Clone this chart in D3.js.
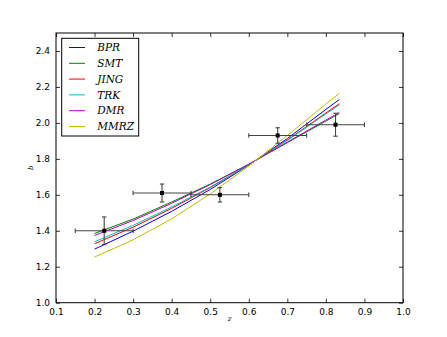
<!DOCTYPE html>
<html><head><meta charset="utf-8">
<script src="https://cdn.jsdelivr.net/npm/d3@7"></script>
<style>body{margin:0;background:#fff}svg{display:block}</style>
</head><body>
<script>
// Model curves b(z)
const zGrid = [0.2, 0.3, 0.4, 0.5, 0.6, 0.7, 0.8, 0.835];
const seriesNames = ["BPR", "SMT", "JING", "TRK", "DMR", "MMRZ"];
const seriesColors = ["#0000ff", "#008000", "#ff0000", "#00bfbf", "#bf00bf", "#bfbf00"];
const bprValues  = [1.298, 1.398, 1.508, 1.630, 1.765, 1.913, 2.075, 2.130];
const smtValues  = [1.385, 1.465, 1.560, 1.660, 1.770, 1.890, 2.010, 2.052];
const jingValues = [1.328, 1.420, 1.525, 1.640, 1.767, 1.905, 2.055, 2.107];
const trkValues  = [1.339, 1.430, 1.532, 1.643, 1.767, 1.902, 2.050, 2.100];
const dmrValues  = [1.374, 1.457, 1.553, 1.657, 1.770, 1.893, 2.016, 2.058];
const mmrzValues = [1.254, 1.350, 1.466, 1.605, 1.760, 1.930, 2.105, 2.165];
const seriesValues = [bprValues, smtValues, jingValues, trkValues, dmrValues, mmrzValues];

// Measurements with error bars
const dataZ    = [0.225, 0.375, 0.525, 0.675, 0.825];
const dataB    = [1.40, 1.61, 1.60, 1.93, 1.99];
const dataZerr = [0.075, 0.075, 0.075, 0.075, 0.075];
const dataBerr = [0.077, 0.05, 0.04, 0.043, 0.064];

const xTicks = [0.1,0.2,0.3,0.4,0.5,0.6,0.7,0.8,0.9,1.0];
const yTicks = [1.0,1.2,1.4,1.6,1.8,2.0,2.2,2.4];

const W = 447, H = 337;
const L = 56, R = 403, T = 33, B = 302.7;

const svg = d3.select("body").append("svg").attr("width", W).attr("height", H);
const x = d3.scaleLinear().domain([0.1, 1.0]).range([L, R]);
const y = d3.scaleLinear().domain([1.0, 2.5]).range([B, T]);

// curves
const line = d3.line().x(d => x(d[0])).y(d => y(d[1]));
seriesValues.forEach((vals, i) => {
  svg.append("path")
    .datum(zGrid.map((z, j) => [z, vals[j]]))
    .attr("d", line)
    .attr("fill", "none")
    .attr("stroke", seriesColors[i])
    .attr("stroke-width", 1);
});

// error bars
const eg = svg.append("g").attr("stroke", "#444").attr("stroke-width", 1.1).attr("fill", "none");
dataZ.forEach((z, i) => {
  const cx = x(z), cy = y(dataB[i]);
  const x0 = x(z - dataZerr[i]), x1 = x(z + dataZerr[i]);
  const y0 = y(dataB[i] - dataBerr[i]), y1 = y(dataB[i] + dataBerr[i]);
  eg.append("line").attr("x1", x0).attr("x2", x1).attr("y1", cy).attr("y2", cy);
  eg.append("line").attr("x1", cx).attr("x2", cx).attr("y1", y0).attr("y2", y1);
  const c = 2.2;
  eg.append("line").attr("x1", x0).attr("x2", x0).attr("y1", cy - c).attr("y2", cy + c);
  eg.append("line").attr("x1", x1).attr("x2", x1).attr("y1", cy - c).attr("y2", cy + c);
  eg.append("line").attr("x1", cx - c).attr("x2", cx + c).attr("y1", y0).attr("y2", y0);
  eg.append("line").attr("x1", cx - c).attr("x2", cx + c).attr("y1", y1).attr("y2", y1);
  svg.append("rect").attr("x", cx - 2).attr("y", cy - 2).attr("width", 4).attr("height", 4).attr("fill", "#000");
});

// axes frame
svg.append("rect").attr("x", L).attr("y", T).attr("width", R - L).attr("height", B - T)
  .attr("fill", "none").attr("stroke", "#000").attr("stroke-width", 1);

// ticks inside on all sides
const tl = 4;
const bottomAxis = d3.axisBottom(x).tickValues(xTicks).tickSize(-tl).tickPadding(6).tickFormat(d3.format(".1f"));
const topAxis = d3.axisTop(x).tickValues(xTicks).tickSize(-tl).tickFormat("");
const leftAxis = d3.axisLeft(y).tickValues(yTicks).tickSize(-tl).tickPadding(6).tickFormat(d3.format(".1f"));
const rightAxis = d3.axisRight(y).tickValues(yTicks).tickSize(-tl).tickFormat("");
function styleAxis(g) {
  g.select(".domain").remove();
  g.selectAll(".tick line").attr("stroke", "#000").attr("stroke-width", 0.8);
  g.selectAll("text").attr("font-family", "DejaVu Sans").attr("font-size", 9).attr("fill", "#000");
}
svg.append("g").attr("transform", `translate(0,${B})`).call(bottomAxis).call(styleAxis);
svg.append("g").attr("transform", `translate(0,${T})`).call(topAxis).call(styleAxis);
svg.append("g").attr("transform", `translate(${L},0)`).call(leftAxis).call(styleAxis);
svg.append("g").attr("transform", `translate(${R},0)`).call(rightAxis).call(styleAxis);

// axis labels
svg.append("text").attr("x", (L + R) / 2).attr("y", 321).attr("text-anchor", "middle")
  .attr("font-family", "DejaVu Serif").attr("font-style", "italic").attr("font-size", 7).text("z");
svg.append("text").attr("transform", `translate(33,${(T + B) / 2}) rotate(-90)`).attr("text-anchor", "middle")
  .attr("font-family", "DejaVu Serif").attr("font-style", "italic").attr("font-size", 7).text("b");

// legend
const lg = svg.append("g");
lg.append("rect").attr("x", 61.7).attr("y", 38.3).attr("width", 77).attr("height", 97.7)
  .attr("fill", "#fff").attr("stroke", "#000").attr("stroke-width", 1);
seriesNames.forEach((name, i) => {
  const yy = 47.5 + i * 15.8;
  lg.append("line").attr("x1", 69).attr("x2", 85).attr("y1", yy).attr("y2", yy)
    .attr("stroke", seriesColors[i]).attr("stroke-width", 1);
  lg.append("text").attr("x", 97.3).attr("y", yy + 3.6)
    .attr("font-family", "DejaVu Serif").attr("font-style", "italic").attr("font-size", 10.5)
    .attr("fill", "#000").text(name);
});
</script>
</body></html>
